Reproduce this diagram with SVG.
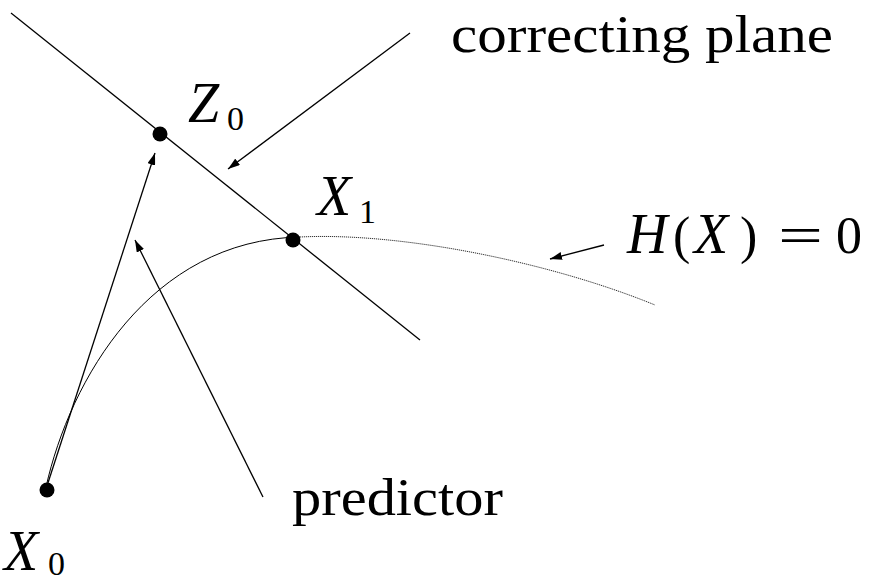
<svg xmlns="http://www.w3.org/2000/svg" width="871" height="581" viewBox="0 0 871 581">
<defs>
<style>
.ln{fill:none;stroke:#000;stroke-width:1.3}
.cv{fill:none;stroke:#000;stroke-width:1}
.cv2{fill:none;stroke:#333;stroke-width:1;stroke-dasharray:1.2 0.8}
.dot{fill:#000}
text{font-family:'Liberation Serif','DejaVu Serif','Times New Roman',Times,serif;fill:#000}
.t{font-size:52px}
.m{font-size:56px;font-style:italic}
.s{font-size:34px;font-style:normal}
</style>
<marker id="ah" viewBox="0 0 12 8" refX="12" refY="4" markerWidth="12" markerHeight="8" markerUnits="userSpaceOnUse" orient="auto">
<path d="M0,0 L12,4 L0,8 Z" fill="#000"/>
</marker>
</defs>
<rect width="871" height="581" fill="#fff"/>
<g id="connectors">
<line class="ln" x1="11" y1="13" x2="420" y2="340"/>
<path class="cv" d="M46,487 C70,380 150,240 300,237"/>
<path class="cv2" d="M300,237 C400,232 550,262 655,305"/>
<line class="ln" x1="410" y1="33" x2="228" y2="169" marker-end="url(#ah)"/>
<line class="ln" x1="46" y1="489" x2="155" y2="153" marker-end="url(#ah)"/>
<line class="ln" x1="263" y1="497" x2="135" y2="240" marker-end="url(#ah)"/>
<line class="ln" x1="604" y1="245" x2="550" y2="259" marker-end="url(#ah)"/>
</g>
<g id="Z0">
<circle class="dot" cx="160" cy="134" r="7.5"/>
<text class="m" x="188" y="122">Z</text>
<text class="s" x="227" y="130">0</text>
</g>
<g id="X1">
<circle class="dot" cx="293" cy="240" r="7.5"/>
<text class="m" x="317" y="215">X</text>
<text class="s" x="359" y="223">1</text>
</g>
<g id="X0">
<circle class="dot" cx="47" cy="490" r="7.5"/>
<text class="m" x="4" y="570">X</text>
<text class="s" x="48" y="575">0</text>
</g>
<g id="label-correcting-plane">
<text class="t" x="451" y="52" textLength="382" lengthAdjust="spacingAndGlyphs">correcting plane</text>
</g>
<g id="label-predictor">
<text class="t" x="292" y="515" textLength="211" lengthAdjust="spacingAndGlyphs">predictor</text>
</g>
<g id="label-H">
<text class="m" x="627" y="253">H</text>
<text class="t" x="673" y="253">(</text>
<text class="m" x="694" y="253">X</text>
<text class="t" x="740" y="253">)</text>
<text class="t" x="778" y="253" textLength="45" lengthAdjust="spacingAndGlyphs">=</text>
<text class="t" x="836" y="253">0</text>
</g>
</svg>
